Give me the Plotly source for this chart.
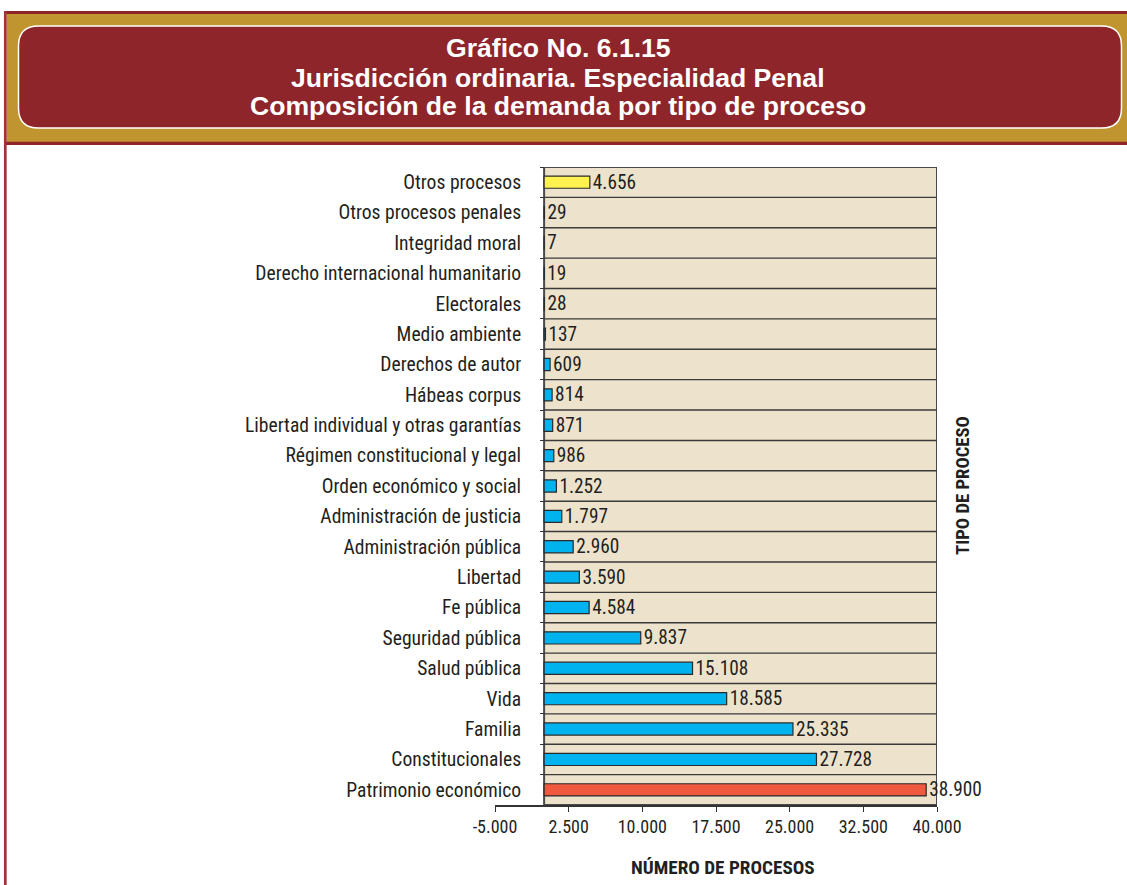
import plotly.graph_objects as go

# ---------------- data ----------------
categories = [
    "Patrimonio económico", "Constitucionales", "Familia", "Vida", "Salud pública",
    "Seguridad pública", "Fe pública", "Libertad", "Administración pública",
    "Administración de justicia", "Orden económico y social",
    "Régimen constitucional y legal", "Libertad individual y otras garantías",
    "Hábeas corpus", "Derechos de autor", "Medio ambiente", "Electorales",
    "Derecho internacional humanitario", "Integridad moral",
    "Otros procesos penales", "Otros procesos",
]
values = [38900, 27728, 25335, 18585, 15108, 9837, 4584, 3590, 2960, 1797, 1252,
          986, 871, 814, 609, 137, 28, 19, 7, 29, 4656]
tick_vals = [-5000, 2500, 10000, 17500, 25000, 32500, 40000]
tick_labels = ["-5.000", "2.500", "10.000", "17.500", "25.000", "32.500", "40.000"]
title_lines = ["Gráfico No. 6.1.15",
               "Jurisdicción ordinaria. Especialidad Penal",
               "Composición de la demanda por tipo de proceso"]
x_title = "NÚMERO DE PROCESOS"
y_title = "TIPO DE PROCESO"

# ---------------- style ----------------
W, H = 1127, 885
L, R, T, B = 495, 190, 167, 80
PW, PH = W - L - R, H - T - B
XMIN, XMAX = -5000, 40000

BLUE, YELLOW, RED = "#00B2EE", "#FFF250", "#EF5940"
colors = [RED if c == "Patrimonio económico" else YELLOW if c == "Otros procesos" else BLUE
          for c in categories]
labels = [f"{v:,}".replace(",", ".") for v in values]

NARROW = "Roboto Condensed, Liberation Sans Narrow, Arial Narrow, sans-serif"
BOLD = "Liberation Sans, Arial, sans-serif"
TXT = "#231F20"
GRID = "#3a3a3a"
TAN = "#EDE3CC"
DARKRED = "#8E252A"
GOLD = "#C0952F"


def px_x(p):
    return (p - L) / PW


def px_y(p):
    return (H - B - p) / PH


fig = go.Figure(go.Bar(
    y=categories, x=values, orientation="h",
    marker=dict(color=colors, line=dict(color="#2a2a2a", width=1.2)),
    width=0.4,
    text=labels, textposition="outside", constraintext="none", cliponaxis=False,
    textfont=dict(family=NARROW, size=19.3, color=TXT),
    hoverinfo="skip",
))

n = len(categories)
shapes = []
shapes.append(dict(type="rect", xref="x", yref="y", x0=0, x1=XMAX, y0=-0.5, y1=n - 0.5,
                   fillcolor=TAN, line=dict(color="#4a4a4a", width=2), layer="below"))
for i in range(n - 1):
    shapes.append(dict(type="line", xref="x", yref="y", x0=0, x1=XMAX, y0=i + 0.5, y1=i + 0.5,
                       line=dict(color=GRID, width=1.4), layer="below"))

# header band
shapes.append(dict(type="rect", xref="paper", yref="paper",
                   x0=px_x(6.5), x1=px_x(W + 5), y0=px_y(142), y1=px_y(13),
                   fillcolor=GOLD, line=dict(width=0), layer="above"))
shapes.append(dict(type="line", xref="paper", yref="paper",
                   x0=px_x(4), x1=px_x(W + 5), y0=px_y(12.5), y1=px_y(12.5),
                   line=dict(color="#8E2328", width=3)))
shapes.append(dict(type="line", xref="paper", yref="paper",
                   x0=px_x(4), x1=px_x(W + 5), y0=px_y(143.3), y1=px_y(143.3),
                   line=dict(color="#8E2328", width=3.3)))
shapes.append(dict(type="line", xref="paper", yref="paper",
                   x0=px_x(5.3), x1=px_x(5.3), y0=px_y(11), y1=px_y(H + 5),
                   line=dict(color="#A0323A", width=2.7)))

x0, x1, y0, y1, r = 18.5, 1121.5, 26, 128, 20


def P(a, b):
    return f"{px_x(a):.6f},{px_y(b):.6f}"


path = (f"M {P(x0 + r, y0)} L {P(x1 - r, y0)} Q {P(x1, y0)} {P(x1, y0 + r)} "
        f"L {P(x1, y1 - r)} Q {P(x1, y1)} {P(x1 - r, y1)} "
        f"L {P(x0 + r, y1)} Q {P(x0, y1)} {P(x0, y1 - r)} "
        f"L {P(x0, y0 + r)} Q {P(x0, y0)} {P(x0 + r, y0)} Z")
shapes.append(dict(type="path", xref="paper", yref="paper", path=path,
                   fillcolor=DARKRED, line=dict(color="white", width=1.5), layer="above"))

annotations = []
for txt, yc in zip(title_lines, [47.5, 77.5, 106.5]):
    annotations.append(dict(text=f"<b>{txt}</b>", xref="paper", yref="paper",
                            x=px_x(558), y=px_y(yc), xanchor="center", yanchor="middle",
                            showarrow=False, font=dict(family=BOLD, size=26.6, color="white")))
annotations.append(dict(text=f"<b>{x_title}</b>", xref="paper", yref="paper",
                        x=px_x(723), y=px_y(868), xanchor="center", yanchor="middle",
                        showarrow=False, font=dict(family=NARROW, size=19.2, color=TXT)))
annotations.append(dict(text=f"<b>{y_title}</b>", xref="paper", yref="paper",
                        x=px_x(963), y=px_y(486), xanchor="center", yanchor="middle",
                        textangle=-90, showarrow=False,
                        font=dict(family=NARROW, size=18.7, color=TXT)))

fig.update_layout(
    width=W, height=H,
    margin=dict(l=L, r=R, t=T, b=B, autoexpand=False),
    paper_bgcolor="white", plot_bgcolor="white",
    showlegend=False, separators=",.",
    shapes=shapes, annotations=annotations,
    xaxis=dict(range=[XMIN, XMAX], tickvals=tick_vals, ticktext=tick_labels,
               showgrid=False, zeroline=False, showline=True, linecolor="#333333",
               linewidth=1.5, ticks="outside", ticklen=5, tickcolor="#333333",
               tickfont=dict(family=NARROW, size=18, color=TXT), fixedrange=True),
    yaxis=dict(type="category", range=[-0.5, n - 0.5], anchor="free",
               position=(0 - XMIN) / (XMAX - XMIN), tickson="boundaries",
               ticks="outside", ticklen=4, tickcolor="#333333", showgrid=False,
               showline=False, zeroline=False, ticklabelstandoff=23,
               tickfont=dict(family=NARROW, size=19.6, color=TXT), fixedrange=True),
)

fig.write_html("out.html", config={"displayModeBar": False},
               post_script="document.body.style.margin='0';document.body.style.overflow='hidden';")
